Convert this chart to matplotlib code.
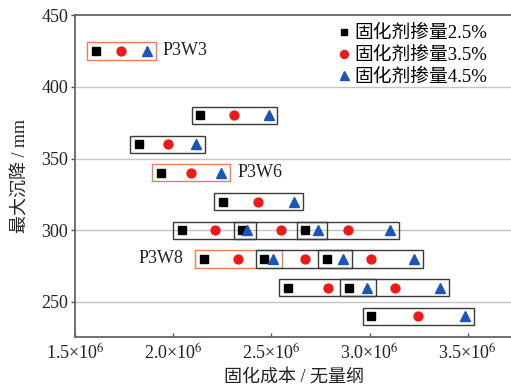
import matplotlib
matplotlib.use("Agg")
import matplotlib.pyplot as plt
from matplotlib.patches import Rectangle
import numpy as np

plt.rcParams['font.family'] = ['Liberation Serif', 'Noto Sans CJK SC']
plt.rcParams['mathtext.fontset'] = 'stix'

# settlement (mm) of each mix group and its cost at the three dosages
settlement = [425, 380, 360, 340, 320, 300, 300, 300, 280, 280, 280, 260, 260, 240]
cost_25 = [1.605e6, 2.138e6, 1.827e6, 1.935e6, 2.252e6, 2.044e6, 2.352e6,
           2.673e6, 2.155e6, 2.464e6, 2.784e6, 2.583e6, 2.894e6, 3.009e6]
cost_35 = [1.735e6, 2.311e6, 1.973e6, 2.092e6, 2.430e6, 2.211e6, 2.551e6,
           2.889e6, 2.330e6, 2.670e6, 3.009e6, 2.789e6, 3.128e6, 3.248e6]
cost_45 = [1.866e6, 2.485e6, 2.117e6, 2.245e6, 2.614e6, 2.375e6, 2.738e6,
           3.104e6, 2.507e6, 2.866e6, 3.226e6, 2.988e6, 3.359e6, 3.486e6]

# highlighted groups: index, name, which side the name goes
named_groups = [(0, 'P3W3', 'right'), (3, 'P3W6', 'right'), (8, 'P3W8', 'left')]

dosage_labels = ['固化剂掺量2.5%', '固化剂掺量3.5%', '固化剂掺量4.5%']
xticks = [1.5e6, 2.0e6, 2.5e6, 3.0e6, 3.5e6]
xtick_labels = [r'1.5×10$^{6}$', r'2.0×10$^{6}$', r'2.5×10$^{6}$',
                r'3.0×10$^{6}$', r'3.5×10$^{6}$']
yticks = [250, 300, 350, 400, 450]

fig = plt.figure(figsize=(5.11, 3.87), dpi=100)
ax = fig.add_axes([0.147, 0.129, 0.853, 0.832])

for y in yticks[:-1]:
    ax.axhline(y, color='#c4c4c4', lw=1.0, zorder=0)

pad_x, pad_y = 0.045e6, 6
named = {i: (name, side) for i, name, side in named_groups}
for i, y in enumerate(settlement):
    x0 = cost_25[i] - pad_x
    x1 = cost_45[i] + pad_x
    edge = '#f07a5e' if i in named else '#3a3a3a'
    ax.add_patch(Rectangle((x0, y - pad_y), x1 - x0, 2 * pad_y, fill=False,
                           ec=edge, lw=1.0, zorder=2))
    if i in named:
        name, side = named[i]
        if side == 'right':
            ax.annotate(name, (x1, y), xytext=(5, 0), textcoords='offset points',
                        ha='left', va='center', fontsize=13, color='#222222')
        else:
            ax.annotate(name, (x0, y), xytext=(-8, 0), textcoords='offset points',
                        ha='right', va='center', fontsize=13, color='#222222')

ax.plot(cost_25, settlement, 's', color='black', ms=5.4, ls='none',
        label=dosage_labels[0], zorder=3)
ax.plot(cost_35, settlement, 'o', color='#ee1a1a', ms=6.4, ls='none',
        label=dosage_labels[1], zorder=3)
ax.plot(cost_45, settlement, '^', color='#1c55b8', ms=7.2, ls='none',
        label=dosage_labels[2], zorder=3)

ax.set_xlim(1.5e6, 3.72e6)
ax.set_ylim(225.5, 450)
ax.set_xticks(xticks)
ax.set_xticklabels(xtick_labels)
ax.set_yticks(yticks)
ax.tick_params(length=3, width=1.0, colors='#555555',
               labelcolor='#222222', labelsize=13)
ax.tick_params(axis='x', direction='in', pad=5)
ax.tick_params(axis='y', direction='out', pad=2)
for side in ['left', 'bottom', 'top']:
    ax.spines[side].set_color('#666666')
    ax.spines[side].set_linewidth(1.3)
ax.spines['right'].set_visible(False)

ax.set_xlabel('固化成本 / 无量纲', fontsize=13, color='#222222')
ax.xaxis.set_label_coords(0.502, -0.128)
ax.xaxis.label.set_va('center')
ax.set_ylabel('最大沉降 / mm', fontsize=13, color='#222222')
ax.yaxis.set_label_coords(-0.127, 0.5)
ax.yaxis.label.set_va('center')

ax.legend(loc='upper right', bbox_to_anchor=(0.945, 0.969), frameon=False,
          fontsize=13.5, handletextpad=0.15, handlelength=0.8,
          labelspacing=0.25, borderaxespad=0, borderpad=0, markerscale=0.9)

fig.savefig('out.png', dpi=100)
